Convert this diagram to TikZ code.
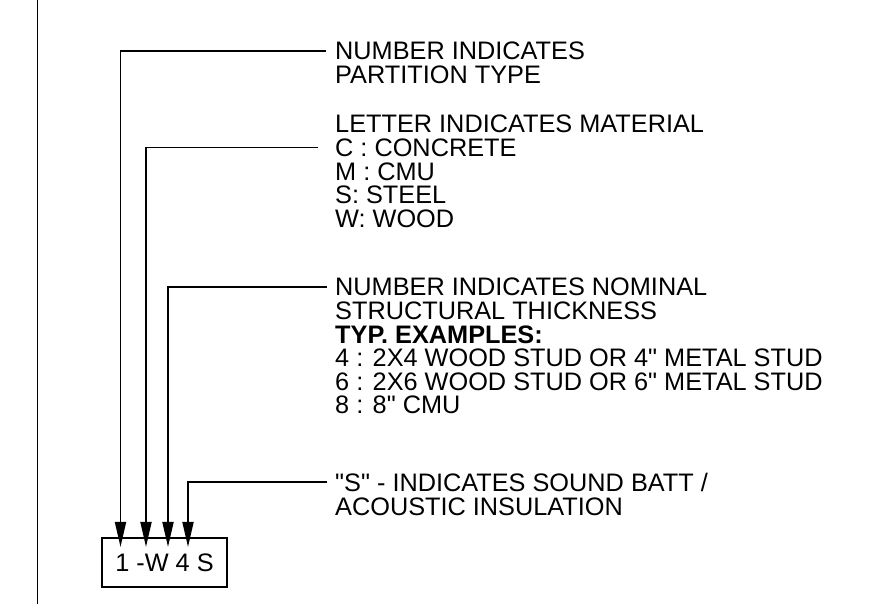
\documentclass[tikz,border=0pt]{standalone}
\usepackage{fontspec}
\setmainfont{Liberation Sans}
\usetikzlibrary{arrows.meta}
\definecolor{inkc}{HTML}{000000}

\begin{document}
\begin{tikzpicture}[x=1pt, y=1pt,
    note/.style={anchor=north west, inner sep=0pt, align=left, inkc,
      font=\fontsize{25.3}{23.6}\selectfont},
    leader/.style={line width=1.8pt, inkc, -{Triangle[length=25pt, width=11pt]}},
    tagbox/.style={draw=inkc, line width=1.3pt, minimum width=125pt,
      minimum height=49pt, inner sep=0pt, font=\fontsize{25.3}{23.6}\selectfont}]
    \useasboundingbox (0,0) rectangle (887,604);
    \draw[line width=1.2pt, inkc] (37.5,604) -- (37.5,0);
    \node[tagbox] (tag) at (164.5,41.5) {1 -W 4 S};
    \coordinate (tip1) at (120.5,57);
    \coordinate (tip2) at (146,57);
    \coordinate (tip3) at (168,57);
    \coordinate (tip4) at (188,57);
    \node[note] (partno) at (335,562.3) {NUMBER INDICATES\\PARTITION TYPE};
    \node[note] (matl) at (335,489) {LETTER INDICATES MATERIAL\\C : CONCRETE\\M : CMU\\S: STEEL\\W: WOOD};
    \node[note] (thick) at (335,326) {NUMBER INDICATES NOMINAL\\STRUCTURAL THICKNESS\\{\bfseries TYP. EXAMPLES:}\\4 : 2X4 WOOD STUD OR 4\textquotedbl{} METAL STUD\\6 : 2X6 WOOD STUD OR 6\textquotedbl{} METAL STUD\\8 : 8\textquotedbl{} CMU};
    \node[note] (sound) at (335,131) {\textquotedbl S\textquotedbl{} - INDICATES SOUND BATT /\\ACOUSTIC INSULATION};
    \draw[leader] ([xshift=-9pt, yshift=-9pt]partno.north west) -| (tip1);
    \draw[leader] ([xshift=-17pt, yshift=-32.6pt]matl.north west) -| (tip2);
    \draw[leader] ([xshift=-8pt, yshift=-9pt]thick.north west) -| (tip3);
    \draw[leader] ([xshift=-8pt, yshift=-9pt]sound.north west) -| (tip4);
\end{tikzpicture}
\end{document}
